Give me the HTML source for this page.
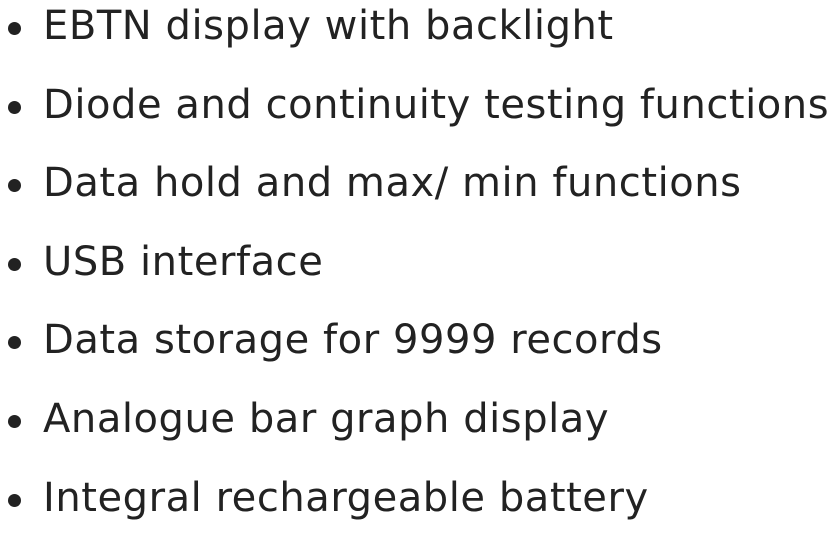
<!DOCTYPE html>
<html><head><style>
html,body{margin:0;padding:0;background:#fff;width:833px;height:525px;overflow:hidden}
ul{position:absolute;left:0;top:-13px;margin:0;padding:0;list-style:none;font-family:"DejaVu Sans","Liberation Sans",sans-serif;font-size:40px;line-height:78.6px;color:#222;letter-spacing:0.55px}
li{position:relative;padding-left:43px;white-space:nowrap}
li:before{content:"";position:absolute;left:8px;top:35px;width:13px;height:13px;border-radius:50%;background:#222}
</style></head><body>
<ul>
<li>EBTN display with backlight</li>
<li>Diode and continuity testing functions</li>
<li>Data hold and max/ min functions</li>
<li>USB interface</li>
<li>Data storage for 9999 records</li>
<li>Analogue bar graph display</li>
<li>Integral rechargeable battery</li>
</ul>
</body></html>
